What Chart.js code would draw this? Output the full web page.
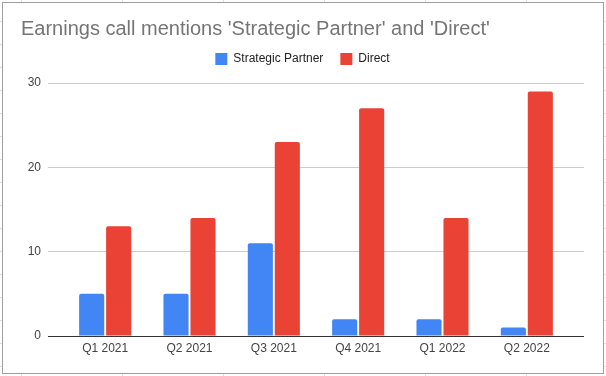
<!DOCTYPE html>
<html>
<head>
<meta charset="utf-8">
<script src="https://cdn.jsdelivr.net/npm/chart.js@4"></script>
<style>
  html, body { margin: 0; padding: 0; background: #fff; }
  #wrap {
    position: relative; width: 606px; height: 376px; overflow: hidden;
    /* faint spreadsheet cell lines around the chart frame */
    background:
      linear-gradient(to right, #e0e0e0 1px, transparent 1px) 21px 0 / 101px 100%,
      linear-gradient(to bottom, #e0e0e0 1px, transparent 1px) 0 21px / 100% 23px,
      #fff;
  }
  #frame {
    position: absolute; left: 2px; top: 2px; width: 602px; height: 372px;
    box-sizing: border-box; border: 1px solid #9e9e9e; background: #fff;
  }
  #chart { position: absolute; left: 0; top: 0; }
</style>
</head>
<body>
<div id="wrap">
  <div id="frame"></div>
  <canvas id="chart" width="606" height="376"></canvas>
</div>
<script>
const quarters = ['Q1 2021', 'Q2 2021', 'Q3 2021', 'Q4 2021', 'Q1 2022', 'Q2 2022'];
const strategicPartner = [5, 5, 11, 2, 2, 1];
const direct = [13, 14, 23, 27, 14, 29];
const yTicks = [0, 10, 20, 30];

const FONT = "Arial, 'Liberation Sans', sans-serif";

// grid colour: dark baseline at zero, light elsewhere
const gridColor = ctx => (ctx.tick && ctx.tick.value === 0) ? '#333333' : '#cccccc';

// move the legend row up a little, closer to the title
const nudgeLegend = {
    id: 'nudgeLegend',
    afterLayout(chart) {
        const l = chart.legend;
        if (!l) return;
        l.top -= 8;
        l.bottom -= 8;
    }
};

const chartEl = document.getElementById('chart');

const chart = new Chart(chartEl, {
    type: 'bar',
    data: {
        labels: quarters,
        datasets: [{
            label: 'Strategic Partner',
            data: strategicPartner,
            backgroundColor: '#4285f4',
            borderWidth: 0,
            borderRadius: 2
        }, {
            label: 'Direct',
            data: direct,
            backgroundColor: '#ea4335',
            borderWidth: 0,
            borderRadius: 2
        }]
    },
    options: {
        responsive: false,
        animation: false,
        devicePixelRatio: 1,
        layout: {
            padding: { left: 21, right: 22, top: 0, bottom: 0 }
        },
        datasets: {
            bar: {
                categoryPercentage: 0.64,
                barPercentage: 0.93
            }
        },
        plugins: {
            title: {
                display: true,
                text: "Earnings call mentions 'Strategic Partner' and 'Direct'",
                align: 'start',
                color: '#757575',
                font: { family: FONT, size: 20, weight: 'normal', lineHeight: 1.2 },
                padding: { top: 17.5, bottom: 2.5 }
            },
            legend: {
                display: true,
                position: 'top',
                align: 'center',
                labels: {
                    boxWidth: 12,
                    boxHeight: 12,
                    padding: 17,
                    color: '#222222',
                    font: { family: FONT, size: 12 }
                }
            },
            tooltip: { enabled: false }
        },
        scales: {
            x: {
                z: 1,
                grid: { display: false, drawTicks: false },
                border: { display: true, color: '#333333', width: 1 },
                ticks: {
                    color: '#444444',
                    padding: 5,
                    font: { family: FONT, size: 12 }
                },
                afterFit: scale => { scale.height = 40; }
            },
            y: {
                position: 'left',
                min: 0,
                max: 30,
                afterBuildTicks: scale => { scale.ticks = yTicks.map(v => ({ value: v })); },
                grid: { color: gridColor, tickLength: 15, drawTicks: true },
                border: { display: false },
                ticks: {
                    color: '#444444',
                    padding: 7,
                    font: { family: FONT, size: 12 }
                },
                afterFit: scale => { scale.width = 42; }
            },
            y2: {
                position: 'right',
                min: 0,
                max: 30,
                afterBuildTicks: scale => { scale.ticks = yTicks.map(v => ({ value: v })); },
                grid: { color: gridColor, tickLength: 15, drawTicks: true },
                border: { display: false },
                ticks: { display: false },
                afterFit: scale => { scale.width = 15; }
            }
        }
    },
    plugins: [nudgeLegend]
});
</script>
</body>
</html>
